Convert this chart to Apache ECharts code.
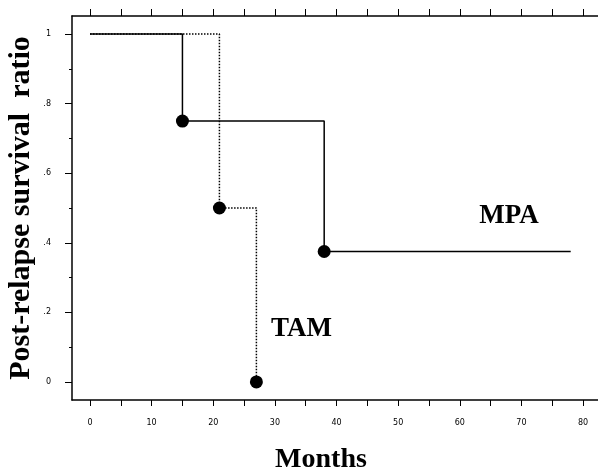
<!DOCTYPE html>
<html>
<head>
<meta charset="utf-8">
<script src="https://cdn.jsdelivr.net/npm/echarts@6/dist/echarts.min.js"></script>
<style>
html,body{margin:0;padding:0;background:#fff;}
#chart{width:598px;height:473px;}
</style>
</head>
<body>
<div id="chart"></div>
<script>
// ---- data ----
const mpaMonths = [0, 15, 38, 78];
const mpaSurvival = [1, 0.75, 0.375, 0.375];
const mpaEventMonths = [15, 38];
const mpaEventSurvival = [0.75, 0.375];

const tamMonths = [0, 21, 27];
const tamSurvival = [1, 0.5, 0];
const tamEventMonths = [21, 27];
const tamEventSurvival = [0.5, 0];

const xTickValues = [0, 10, 20, 30, 40, 50, 60, 70, 80];
const xTickLabels = ['0', '10', '20', '30', '40', '50', '60', '70', '80'];
const xMinorTickValues = [0, 5, 10, 15, 20, 25, 30, 35, 40, 45, 50, 55, 60, 65, 70, 75, 80];
const yTickValues = [0, 0.2, 0.4, 0.6, 0.8, 1];
const yTickLabels = ['0', '.2', '.4', '.6', '.8', '1'];
const yMinorTickValues = [0.1, 0.3, 0.5, 0.7, 0.9];

const seriesNames = ['MPA', 'TAM'];
const seriesLabelAnchors = [[68.0, 0.477], [34.3, 0.152]];

// ---- build ----
const zip = (a, b) => a.map((v, i) => [v, b[i]]);
const xRange = [-2.92, 82.43];
const yRange = [-0.052, 1.052];
const black = '#000';

const baseX = {
  type: 'value', min: xRange[0], max: xRange[1],
  splitLine: { show: false }
};
const baseY = {
  type: 'value', min: yRange[0], max: yRange[1],
  splitLine: { show: false }
};

const option = {
  animation: false,
  backgroundColor: '#fff',
  grid: { left: 72, top: 16, right: 0, bottom: 73, containLabel: false, outerBoundsMode: 'none' },
  xAxis: [
    Object.assign({}, baseX, {
      position: 'bottom',
      name: 'Months', nameLocation: 'middle', nameGap: 46, nameMoveOverlap: false,
      nameTextStyle: { fontFamily: 'Liberation Serif', fontWeight: 'bold', fontSize: 28, color: black, padding: [0, 28, 0, 0] },
      axisLine: { show: true, onZero: false, lineStyle: { color: black, width: 1.5 } },
      axisTick: { show: true, inside: false, length: 6, customValues: xMinorTickValues, lineStyle: { color: black, width: 1 } },
      axisLabel: {
        show: true, margin: 19, customValues: xTickValues,
        formatter: (v) => { const i = xTickValues.indexOf(Math.round(v)); return i >= 0 ? xTickLabels[i] : ''; },
        fontFamily: 'DejaVu Sans', fontSize: 8, color: black
      }
    }),
    Object.assign({}, baseX, {
      position: 'top',
      axisLine: { show: true, onZero: false, lineStyle: { color: black, width: 1.5 } },
      axisTick: { show: true, inside: false, length: 7, customValues: xMinorTickValues, lineStyle: { color: black, width: 1 } },
      axisLabel: { show: false }
    })
  ],
  yAxis: [
    Object.assign({}, baseY, {
      position: 'left',
      name: 'Post-relapse survival  ratio', nameLocation: 'middle', nameGap: 36, nameMoveOverlap: false,
      nameTextStyle: { fontFamily: 'Liberation Serif', fontWeight: 'bold', fontSize: 30, color: black },
      axisLine: { show: true, onZero: false, lineStyle: { color: black, width: 1.5 } },
      axisTick: { show: true, inside: false, length: 7, customValues: yTickValues, lineStyle: { color: black, width: 1 } },
      axisLabel: {
        show: true, margin: 21, customValues: yTickValues,
        formatter: (v) => { const i = yTickValues.findIndex(t => Math.abs(t - v) < 1e-6); return i >= 0 ? yTickLabels[i] : ''; },
        fontFamily: 'DejaVu Sans', fontSize: 8, color: black
      }
    }),
    Object.assign({}, baseY, {
      position: 'left',
      axisLine: { show: false, onZero: false },
      axisTick: { show: true, inside: false, length: 3, customValues: yMinorTickValues, lineStyle: { color: black, width: 1 } },
      axisLabel: { show: false }
    })
  ],
  series: [
    {
      name: 'TAM', type: 'line', step: 'end', xAxisIndex: 0, yAxisIndex: 0,
      data: zip(tamMonths, tamSurvival), showSymbol: false, symbol: 'none',
      lineStyle: { color: black, width: 1.5, type: [1.5, 1.5] }, z: 2
    },
    {
      name: 'MPA', type: 'line', step: 'end', xAxisIndex: 0, yAxisIndex: 0,
      data: zip(mpaMonths, mpaSurvival), showSymbol: false, symbol: 'none',
      lineStyle: { color: black, width: 1.5 }, z: 3
    },
    {
      type: 'scatter', xAxisIndex: 0, yAxisIndex: 0,
      data: zip(mpaEventMonths, mpaEventSurvival).concat(zip(tamEventMonths, tamEventSurvival)),
      symbol: 'circle', symbolSize: 13, itemStyle: { color: black, opacity: 1 }, z: 4
    },
    {
      type: 'scatter', xAxisIndex: 0, yAxisIndex: 0, symbolSize: 0,
      itemStyle: { opacity: 1 },
      data: seriesNames.map((n, i) => ({ name: n, value: seriesLabelAnchors[i] })),
      label: {
        show: true, position: 'inside', formatter: (p) => p.name, opacity: 1,
        fontFamily: 'Liberation Serif', fontWeight: 'bold', fontSize: 27, color: black
      },
      z: 5
    }
  ]
};

const chart = echarts.init(document.getElementById('chart'), null, { renderer: 'canvas' });
chart.setOption(option);
</script>
</body>
</html>
